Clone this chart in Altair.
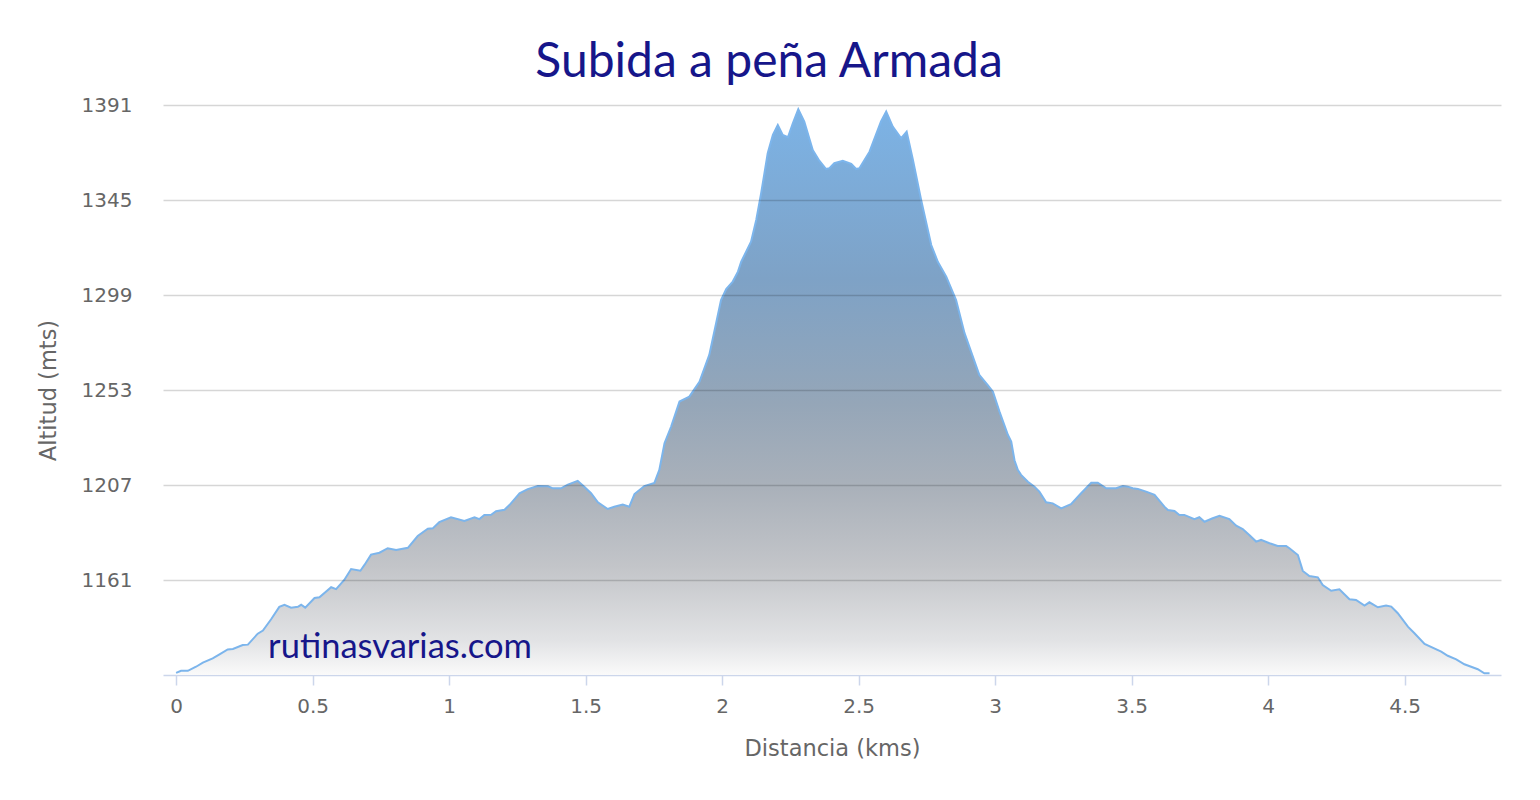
import altair as alt
import pandas as pd

dist_km = [0.000, 0.018, 0.043, 0.073, 0.098, 0.134, 0.159, 0.189, 0.208, 0.244,
           0.263, 0.299, 0.318, 0.348, 0.378, 0.397, 0.421, 0.446, 0.458, 0.473,
           0.507, 0.525, 0.568, 0.586, 0.616, 0.641, 0.675, 0.690, 0.714, 0.745,
           0.775, 0.806, 0.849, 0.885, 0.922, 0.940, 0.964, 1.007, 1.056, 1.093,
           1.111, 1.129, 1.154, 1.172, 1.203, 1.221, 1.258, 1.288, 1.325, 1.362,
           1.380, 1.410, 1.435, 1.471, 1.496, 1.520, 1.545, 1.581, 1.605, 1.636,
           1.660, 1.679, 1.715, 1.752, 1.770, 1.789, 1.813, 1.844, 1.880, 1.917,
           1.953, 1.978, 1.996, 2.015, 2.039, 2.058, 2.070, 2.088, 2.106, 2.125,
           2.143, 2.167, 2.186, 2.204, 2.222, 2.241, 2.259, 2.279, 2.301, 2.332,
           2.356, 2.381, 2.393, 2.411, 2.442, 2.473, 2.491, 2.503, 2.540, 2.582,
           2.601, 2.625, 2.656, 2.676, 2.699, 2.729, 2.766, 2.790, 2.821, 2.857,
           2.888, 2.942, 2.973, 2.992, 3.016, 3.047, 3.059, 3.071, 3.083, 3.095,
           3.120, 3.144, 3.162, 3.187, 3.211, 3.242, 3.278, 3.315, 3.352, 3.376,
           3.407, 3.443, 3.468, 3.486, 3.504, 3.523, 3.553, 3.584, 3.620, 3.633,
           3.657, 3.675, 3.693, 3.730, 3.748, 3.767, 3.797, 3.822, 3.858, 3.883,
           3.907, 3.931, 3.956, 3.974, 4.005, 4.035, 4.066, 4.078, 4.109, 4.127,
           4.151, 4.182, 4.200, 4.231, 4.261, 4.298, 4.322, 4.353, 4.371, 4.402,
           4.432, 4.451, 4.475, 4.512, 4.536, 4.573, 4.634, 4.658, 4.689, 4.719,
           4.768, 4.792, 4.811]

altitude_m = [1116.0, 1117.0, 1117.0, 1119.0, 1121.0, 1123.0, 1125.0, 1127.4, 1127.6, 1129.5,
              1129.7, 1135.0, 1136.5, 1142.0, 1148.0, 1149.0, 1147.6, 1148.0, 1149.0, 1147.6,
              1152.3, 1152.6, 1157.5, 1156.6, 1161.0, 1166.3, 1165.5, 1168.3, 1173.3, 1174.2,
              1176.4, 1175.5, 1176.6, 1182.3, 1185.8, 1186.0, 1189.0, 1191.4, 1189.6, 1191.4,
              1190.5, 1192.5, 1192.6, 1194.3, 1195.0, 1197.3, 1203.0, 1205.0, 1206.5, 1206.4,
              1205.4, 1205.4, 1207.2, 1209.0, 1206.0, 1203.0, 1198.6, 1195.4, 1196.5, 1197.5,
              1196.5, 1202.6, 1206.5, 1208.0, 1214.3, 1227.2, 1235.2, 1247.4, 1249.8, 1257.0,
              1270.0, 1285.3, 1296.6, 1301.9, 1305.5, 1310.3, 1315.1, 1320.0, 1324.8, 1335.3,
              1348.3, 1367.6, 1376.5, 1381.3, 1376.5, 1375.4, 1382.1, 1388.9, 1383.0, 1369.2,
              1364.0, 1360.0, 1360.4, 1362.8, 1364.0, 1362.5, 1360.0, 1360.4, 1368.4, 1383.0,
              1387.8, 1380.5, 1374.9, 1378.1, 1364.4, 1345.0, 1323.2, 1315.1, 1307.9, 1296.6,
              1280.5, 1260.3, 1255.4, 1252.2, 1242.5, 1231.2, 1228.0, 1219.0, 1214.3, 1211.9,
              1208.6, 1206.2, 1203.8, 1198.6, 1198.1, 1195.7, 1197.7, 1203.0, 1208.1, 1208.1,
              1205.4, 1205.4, 1206.5, 1206.2, 1205.4, 1205.1, 1203.8, 1202.2, 1196.5, 1194.9,
              1194.4, 1192.5, 1192.5, 1190.5, 1191.4, 1189.2, 1190.9, 1192.1, 1190.5, 1187.3,
              1185.7, 1182.8, 1179.6, 1180.4, 1178.8, 1177.5, 1177.5, 1176.4, 1173.1, 1165.4,
              1162.9, 1162.3, 1158.6, 1155.8, 1156.5, 1151.7, 1151.3, 1148.6, 1150.2, 1147.8,
              1148.6, 1148.1, 1144.9, 1138.4, 1135.2, 1130.0, 1126.3, 1124.3, 1122.6, 1120.2,
              1117.8, 1115.8, 1115.8]

y_ticks = [1161, 1207, 1253, 1299, 1345, 1391]
x_ticks = [0, 0.5, 1, 1.5, 2, 2.5, 3, 3.5, 4, 4.5]
title_text = "Subida a peña Armada"
watermark = "rutinasvarias.com"
y_min = 1115

df = pd.DataFrame({"d": dist_km, "alt": altitude_m})

label_font = "DejaVu Sans"
title_font = "Lato"
navy = "#16168a"
grey = "#666666"

x_enc = alt.X(
    "d:Q",
    scale=alt.Scale(domain=[-0.048, 4.853], nice=False, zero=False),
    axis=alt.Axis(
        values=x_ticks, format="~g", title="Distancia (kms)", grid=False,
        domainColor="#ccd6eb", domainWidth=1.5, tickColor="#ccd6eb", tickSize=10,
        tickWidth=1.5, labelFont=label_font, labelFontSize=20, labelColor=grey,
        labelPadding=11, titleFont=label_font, titleFontSize=22.5,
        titleFontWeight="normal", titleColor=grey, titlePadding=21,
    ),
)
y_enc = alt.Y(
    "alt:Q",
    scale=alt.Scale(domain=[y_min, 1391], nice=False, zero=False),
    axis=alt.Axis(
        values=y_ticks, format="d", title="Altitud (mts)", domain=False, ticks=False,
        gridColor="#000000", gridOpacity=0.16, gridWidth=1.5, zindex=1,
        labelFont=label_font, labelFontSize=20, labelColor=grey, labelPadding=31,
        titleFont=label_font, titleFontSize=22.5, titleFontWeight="normal",
        titleColor=grey, titlePadding=21,
    ),
)

grad = alt.Gradient(
    gradient="linear", x1=0, x2=0, y1=0, y2=1,
    stops=[
        alt.GradientStop(color="#7cb3e6", offset=0.0),
        alt.GradientStop(color="#7ea2c6", offset=0.3),
        alt.GradientStop(color="#95a6b8", offset=0.52),
        alt.GradientStop(color="#aab1ba", offset=0.67),
        alt.GradientStop(color="#c3c5c9", offset=0.81),
        alt.GradientStop(color="#e2e3e5", offset=0.94),
        alt.GradientStop(color="#fafafa", offset=1.0),
    ],
)

area = alt.Chart(df).mark_area(fill=grad, clip=True, interpolate="linear").encode(
    x=x_enc, y=y_enc, y2=alt.datum(y_min)
)
line = alt.Chart(df).mark_line(color="#7cb5ec", strokeWidth=2, clip=True).encode(
    x="d:Q", y="alt:Q"
)
wm = alt.Chart(pd.DataFrame({"t": [watermark]})).mark_text(
    font=title_font, fontSize=34.5, color=navy, align="left", baseline="alphabetic"
).encode(x=alt.datum(0.337), y=alt.datum(1123.2), text="t:N")

chart = alt.layer(area, line, wm).properties(
    width=1338, height=570,
    title=alt.TitleParams(
        text=title_text, font=title_font, fontSize=48, fontWeight="normal",
        color=navy, anchor="middle", frame="bounds", offset=8,
    ),
    padding={"left": 29, "top": 31, "right": 10, "bottom": 10},
).configure(
    background="white",
    view=alt.ViewConfig(strokeWidth=0, stroke="transparent"),
)

chart.save("out.html", embed_options={"renderer": "svg", "actions": False})
